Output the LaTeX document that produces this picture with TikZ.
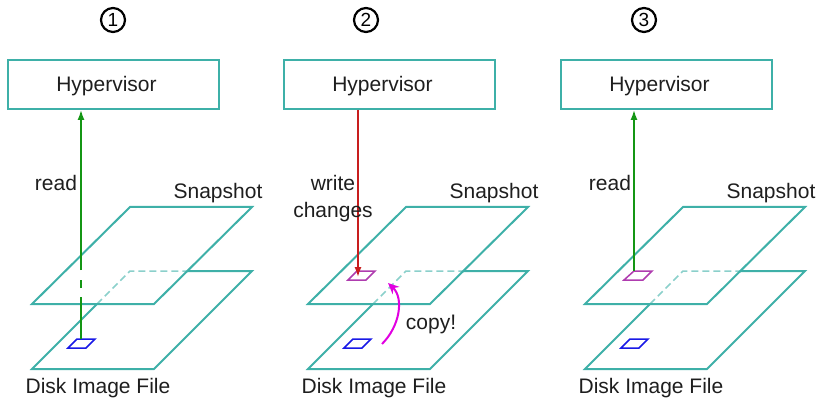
\documentclass[tikz,border=0pt]{standalone}
\usepackage{fontspec}
\setmainfont{Liberation Sans}
\usetikzlibrary{arrows.meta}
\definecolor{tealc}{RGB}{62,176,168}
\definecolor{greenc}{RGB}{20,150,20}
\definecolor{redc}{RGB}{200,30,30}
\definecolor{magc}{RGB}{225,0,225}
\definecolor{purpc}{RGB}{175,60,175}
\definecolor{bluec}{RGB}{25,25,230}
\definecolor{textc}{RGB}{30,30,30}
\begin{document}
\begin{tikzpicture}[x=1pt,y=-1pt,
  hvbox/.style={draw=tealc, line width=2pt, minimum width=211pt, minimum height=49pt, inner sep=0pt},
  plane/.style={draw=tealc, line width=2pt, line join=miter},
  hidden/.style={draw=tealc!60, line width=1.5pt, dash pattern=on 7pt off 4pt},
  lbl/.style={font=\fontsize{21}{27}\selectfont, text=textc, inner sep=0pt, anchor=base},
  num/.style={circle, draw=black, line width=2.2pt, minimum size=24pt, inner sep=0pt, font=\fontsize{19}{19}\selectfont},
  bluebox/.style={draw=bluec, line width=1.5pt},
  purpbox/.style={draw=purpc, line width=1.5pt},
  readarrow/.style={draw=greenc, line width=1.5pt, -{Latex[length=10pt,width=7pt]}},
  writearrow/.style={draw=redc, line width=1.5pt, -{Latex[length=10pt,width=7pt]}},
  copyarrow/.style={draw=magc, line width=2pt, -{Stealth[length=11pt,width=10pt]}}]
\useasboundingbox (0,0) rectangle (822,398);
\foreach \o/\i in {0/1,276/2,553/3} {
  \begin{scope}[xshift=\o pt]
    \draw[plane] (187,271) -- (252,271) -- (154,369) -- (32,369) -- (97,304);
    \draw[hidden] (97,304) -- (130,271) -- (187,271);
    \draw[plane] (130,207) -- (252,207) -- (154,304) -- (32,304) -- cycle;
    \draw[bluebox] (77,339) -- (95,339) -- (86,348) -- (68,348) -- cycle;
    \node[hvbox, label={[lbl, anchor=center, xshift=-7pt, yshift=-2pt]center:Hypervisor}] (hv\i) at (113.5,84.5) {};
    \node[lbl] (snap\i) at (218,199) {Snapshot};
    \node[lbl] (disk\i) at (98,393) {Disk Image File};
  \end{scope}
}
% numbers
\node[num] (n1) at (113,20) {1};
\node[num] (n2) at (366,20) {2};
\node[num] (n3) at (644,20) {3};
% panel 1
\coordinate (b1) at (81,339);
\draw[readarrow, dash pattern=on 42pt off 9pt on 8pt off 10pt on 300pt] (b1) -- (b1 |- hv1.south);
\node[lbl] (read1) at (56,191) {read};
% panel 2
\draw[purpbox] (357,271) -- (375,271) -- (366,280) -- (348,280) -- cycle;
\coordinate (p2) at (358,277);
\draw[writearrow] (hv2.south -| p2) -- (p2);
\node[lbl, align=center] (write2) at (333,218) {write\\changes};
\coordinate (c2s) at (382,344);
\coordinate (c2e) at (388,283);
\draw[copyarrow] (c2s) .. controls (400,326) and (404,298) .. (c2e);
\node[lbl] (copy2) at (431,329) {copy!};
% panel 3
\draw[purpbox] (634,271) -- (652,271) -- (643,280) -- (624,280) -- cycle;
\coordinate (p3) at (634,271);
\draw[readarrow] (p3) -- (p3 |- hv3.south);
\node[lbl] (read3) at (610,191) {read};
\end{tikzpicture}
\end{document}
